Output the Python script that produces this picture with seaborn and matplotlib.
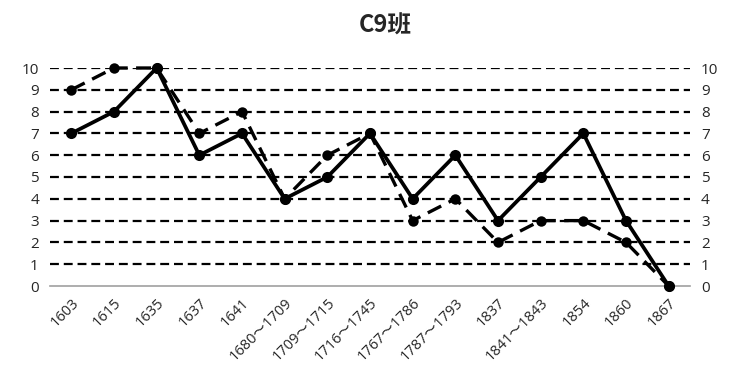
import matplotlib
matplotlib.use("Agg")
import matplotlib.pyplot as plt
import seaborn as sns
import pandas as pd
import numpy as np

categories = ["1603", "1615", "1635", "1637", "1641", "1680～1709", "1709～1715",
              "1716～1745", "1767～1786", "1787～1793", "1837", "1841～1843",
              "1854", "1860", "1867"]
solid_vals = [7, 8, 10, 6, 7, 4, 5, 7, 4, 6, 3, 5, 7, 3, 0]
dashed_vals = [9, 10, 10, 7, 8, 4, 6, 7, 3, 4, 2, 3, 3, 2, 0]
yticks = list(range(0, 11))

sns.set_style("white")
plt.rcParams['font.family'] = ['Open Sans', 'Noto Sans CJK SC', 'DejaVu Sans']

df = pd.DataFrame({
    'pos': list(range(len(categories))) * 2,
    'value': solid_vals + dashed_vals,
    'series': ['solid'] * len(categories) + ['dashed'] * len(categories),
})

fig = plt.figure(figsize=(7.32, 3.81), dpi=100)
ax = fig.add_axes([50 / 732, 95 / 381, 640 / 732, 218 / 381])

# gridlines
for v in yticks[1:]:
    ax.axhline(v, color='black', lw=1.6, dashes=(4, 2.2), zorder=1)

sns.lineplot(data=df[df.series == 'dashed'], x='pos', y='value', ax=ax,
             color='black', lw=2.4, marker='o', markersize=7.5, markeredgewidth=0,
             dashes=(4.5, 2.5), zorder=3, clip_on=False)
sns.lineplot(data=df[df.series == 'solid'], x='pos', y='value', ax=ax,
             color='black', lw=2.7, marker='o', markersize=8, markeredgewidth=0,
             zorder=4, clip_on=False)

ax.set_xlim(-0.5, len(categories) - 0.5)
ax.set_ylim(0, 10)
ax.set_xticks(range(len(categories)))
ax.set_xticklabels(categories, rotation=45, ha='right', rotation_mode='anchor',
                   fontsize=10.5)
ax.set_xticks(np.arange(-0.5, len(categories)), minor=True)
ax.tick_params(axis='x', which='major', length=0, pad=7)
ax.tick_params(axis='x', which='minor', length=5, color='#a0a0a0', width=1.2)
ax.set_yticks(yticks)
ax.tick_params(axis='y', length=0, labelsize=11, labelright=True, pad=8)

for s in ['top', 'left', 'right']:
    ax.spines[s].set_visible(False)
ax.spines['bottom'].set_color('#a0a0a0')
ax.spines['bottom'].set_linewidth(1.2)
ax.set_xlabel('')
ax.set_ylabel('')
if ax.get_legend():
    ax.get_legend().remove()

fig.text(385 / 732, 1 - 26 / 381, "C9班", ha='center', va='center', fontsize=17,
         fontweight='bold', family=['Noto Sans CJK SC'])

fig.savefig("out.png", dpi=100)
